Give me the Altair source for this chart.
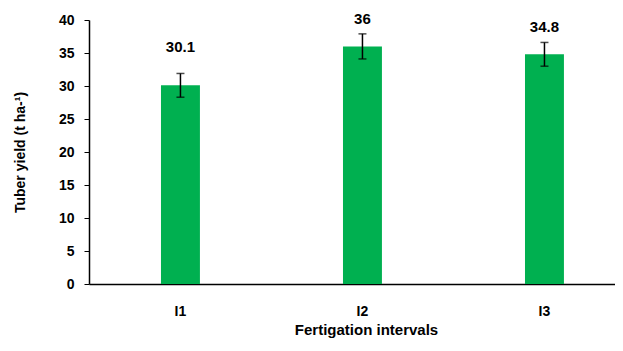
import altair as alt
import pandas as pd

categories = ["I1", "I2", "I3"]
yields = [30.1, 36.0, 34.8]
errors = [1.8, 1.9, 1.8]
label_text = ["30.1", "36", "34.8"]
label_pos = [35.9, 40.15, 38.9]

df = pd.DataFrame({
    "cat": categories,
    "y": yields,
    "lo": [v - e for v, e in zip(yields, errors)],
    "hi": [v + e for v, e in zip(yields, errors)],
    "label": label_text,
    "ly": label_pos,
})

FONT = "Liberation Sans, Arial, sans-serif"

xscale = alt.Scale(paddingInner=0.786, paddingOuter=0.338, align=0.585)
yscale = alt.Scale(domain=[0, 40], nice=False)

x_axis = alt.Axis(title="Fertigation intervals", labelAngle=0, ticks=False,
                  labelPadding=20, labelFontSize=14, labelFont=FONT,
                  labelFontWeight="bold", labelColor="black",
                  domainColor="black", domainWidth=1.5,
                  titleFont=FONT, titleFontSize=15, titleFontWeight="bold",
                  titleColor="black", titleX=277, titleY=50,
                  titleBaseline="alphabetic")
y_axis = alt.Axis(title="Tuber yield (t ha-¹)", values=list(range(0, 41, 5)),
                  grid=False, tickSize=5, tickColor="black", tickWidth=1,
                  domainColor="black", domainWidth=1.5,
                  labelPadding=10, labelFontSize=14, labelFont=FONT,
                  labelFontWeight="bold", labelColor="black",
                  titleFont=FONT, titleFontSize=14, titleFontWeight="bold",
                  titleColor="black", titleX=-69, titleY=132,
                  titleAngle=-90, titleAlign="center", titleBaseline="middle")

X = alt.X("cat:N", sort=categories, scale=xscale, axis=x_axis)


def Y(field):
    return alt.Y(field, scale=yscale, axis=y_axis)


base = alt.Chart(df)

bars = base.mark_bar(color="#00B050").encode(x=X, y=Y("y:Q"))
rules = base.mark_rule(color="black", strokeWidth=1.5).encode(x=X, y=Y("lo:Q"), y2="hi:Q")
caps_hi = base.mark_tick(color="black", size=8, thickness=1.5,
                         orient="horizontal").encode(x=X, y=Y("hi:Q"))
caps_lo = base.mark_tick(color="black", size=8, thickness=1.5,
                         orient="horizontal").encode(x=X, y=Y("lo:Q"))
labels = base.mark_text(font=FONT, fontSize=15, fontWeight="bold", color="black",
                        baseline="middle").encode(x=X, y=Y("ly:Q"), text="label:N")

chart = alt.layer(bars, rules, caps_hi, caps_lo, labels).properties(
    width=526, height=264,
    autosize=alt.AutoSizeParams(type="none"),
    padding={"left": 81, "top": 12, "right": 0, "bottom": 57},
).configure_view(stroke=None)

chart.save("out.html", embed_options={"renderer": "svg", "actions": False})
